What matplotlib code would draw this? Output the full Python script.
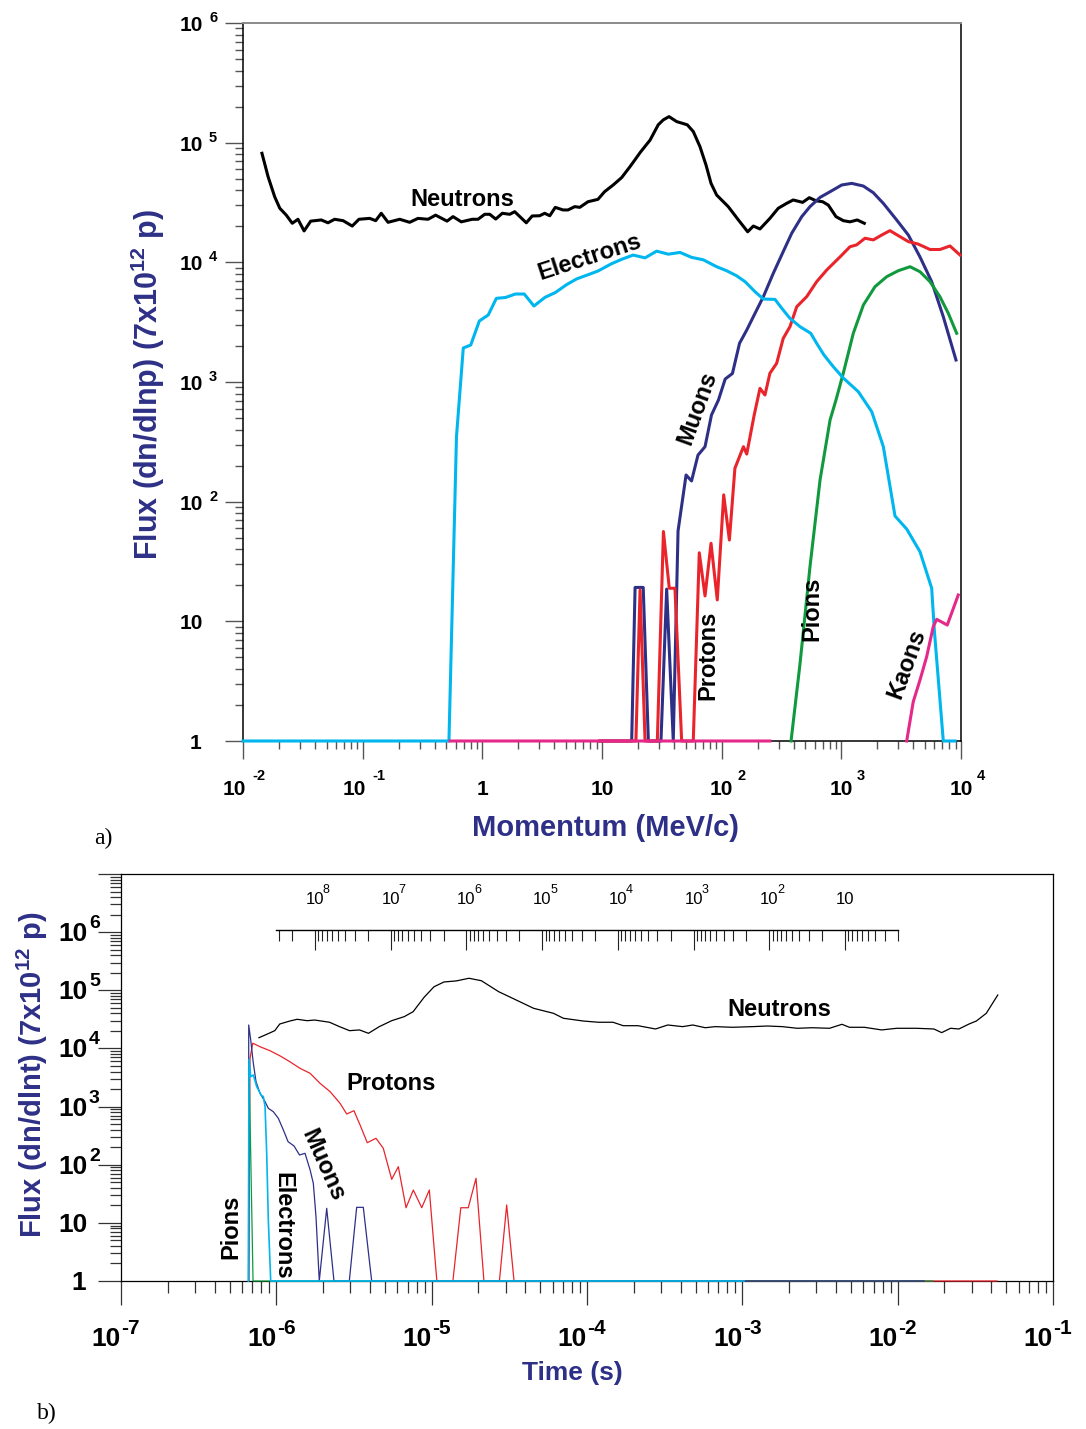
import numpy as np
import matplotlib
matplotlib.use("Agg")
import matplotlib.pyplot as plt
from matplotlib.ticker import LogLocator, NullFormatter

plt.rcParams['font.family'] = ['Liberation Sans', 'DejaVu Sans']
plt.rcParams['mathtext.fontset'] = 'custom'
plt.rcParams['mathtext.rm'] = 'Liberation Sans'
plt.rcParams['mathtext.bf'] = 'Liberation Sans:bold'

# ---------------- data: panel a) flux vs momentum (MeV/c) ----------------
p_neut = [0.0144, 0.0162, 0.0184, 0.0203, 0.0230, 0.0258, 0.0288, 0.0324, 0.0368, 0.0451,
          0.0513, 0.0583, 0.0686, 0.0818, 0.0931, 0.1145, 0.1285, 0.143, 0.163, 0.204,
          0.247, 0.290, 0.352, 0.407, 0.507, 0.569, 0.667, 0.824, 0.920, 1.047,
          1.153, 1.294, 1.469, 1.694, 1.864, 2.33, 2.61, 3.01, 3.32, 3.66,
          4.07, 4.72, 5.20, 5.92, 6.52, 7.64, 9.25, 10.5, 12.4, 14.6,
          17.3, 21.0, 25.2, 29.5, 32.5, 36.3, 42.1, 51.6, 57.9, 65.9,
          74.0, 81.5, 90.8, 113.5, 138, 165, 184, 209, 253, 297,
          349, 396, 475, 540, 614, 698, 778, 902, 1038, 1181, 1358, 1556]
f_neut = [8.15e4, 5.2e4, 3.53e4, 2.83e4, 2.48e4, 2.12e4, 2.29e4, 1.83e4, 2.21e4, 2.26e4,
          2.14e4, 2.29e4, 2.23e4, 2.01e4, 2.29e4, 2.33e4, 2.23e4, 2.57e4, 2.16e4, 2.29e4,
          2.16e4, 2.33e4, 2.29e4, 2.48e4, 2.21e4, 2.41e4, 2.18e4, 2.29e4, 2.29e4, 2.52e4,
          2.52e4, 2.30e4, 2.57e4, 2.52e4, 2.65e4, 2.14e4, 2.44e4, 2.45e4, 2.57e4, 2.45e4,
          2.88e4, 2.74e4, 2.74e4, 2.92e4, 2.88e4, 3.21e4, 3.36e4, 3.89e4, 4.43e4, 5.11e4,
          6.38e4, 8.36e4, 1.05e5, 1.41e5, 1.55e5, 1.65e5, 1.50e5, 1.41e5, 1.24e5, 9.25e4,
          6.50e4, 4.57e4, 3.65e4, 2.92e4, 2.26e4, 1.80e4, 2.01e4, 1.90e4, 2.33e4, 2.83e4,
          3.11e4, 3.32e4, 3.17e4, 3.47e4, 3.27e4, 3.21e4, 3.01e4, 2.41e4, 2.23e4, 2.18e4,
          2.26e4, 2.12e4]

p_elec = [0.01, 0.526, 0.608, 0.693, 0.800, 0.944, 1.12, 1.31, 1.56, 1.89,
          2.24, 2.70, 3.34, 4.08, 5.05, 6.12, 7.53, 9.25, 12.0, 14.6,
          18.2, 22.9, 28.6, 35.8, 44.9, 56.1, 70.2, 90.8, 110, 133,
          157, 190, 223, 279, 318, 372, 452, 555, 622, 716,
          857, 1038, 1386, 1795, 2244, 2808, 3516, 4541, 5689, 5984, 7112, 8913]
f_elec = [1, 1, 349, 1923, 2037, 3235, 3630, 5003, 5082, 5436,
          5436, 4315, 5100, 5598, 6501, 7259, 7834, 8459, 9730, 1.06e4,
          1.15e4, 1.09e4, 1.24e4, 1.17e4, 1.21e4, 1.10e4, 1.05e4, 9190, 8510, 7730,
          6890, 5680, 4935, 4900, 4130, 3405, 2897, 2553, 2105, 1682,
          1342, 1080, 830, 565, 288, 75.9, 59.1, 38.2, 18.9, 8.47, 1, 1]

p_muon = [9.62, 17.7, 18.9, 22.1, 24.4, 31.1, 34.7, 39.4, 43.2, 50.4,
          56.0, 63.4, 72.6, 82.2, 94.0, 107, 123, 141, 162, 190,
          223, 270, 327, 385, 467, 547, 664, 805, 1008, 1222,
          1528, 1849, 2244, 2899, 3631, 4541, 5689, 7112, 9080]
f_muon = [1, 1, 19.2, 19.2, 1, 1, 18.6, 1, 56.9, 167,
          149, 245, 288, 530, 707, 1059, 1178, 2105, 2718, 3750,
          5160, 8095, 1.23e4, 1.75e4, 2.41e4, 2.92e4, 3.49e4, 3.89e4, 4.43e4, 4.57e4,
          4.34e4, 3.82e4, 3.11e4, 2.26e4, 1.69e4, 1.11e4, 6890, 3514, 1527]

p_prot = [9.62, 19.2, 20.8, 22.9, 29.0, 32.6, 36.5, 40.7, 46.3, 57.9,
          65.0, 72.6, 81.5, 91.9, 104, 116, 129, 152, 162, 187,
          209, 230, 253, 288, 327, 372, 424, 513, 622, 755,
          975, 1181, 1343, 1577, 1849, 2173, 2547, 3090, 3631, 4395,
          5508, 6668, 8091, 9820]
f_prot = [1, 1, 18.3, 1, 1, 56.3, 18.9, 18.9, 1, 1,
          37.4, 16.3, 44.9, 15.1, 114, 47.8, 190, 288, 250, 530,
          885, 778, 1183, 1432, 2317, 2897, 4257, 5160, 6890, 8630,
          1.11e4, 1.35e4, 1.40e4, 1.59e4, 1.54e4, 1.69e4, 1.84e4, 1.64e4, 1.49e4, 1.42e4,
          1.28e4, 1.28e4, 1.37e4, 1.15e4]

p_pion = [380, 452, 547, 664, 805, 902, 1038, 1259, 1528, 1911, 2393, 2992, 3750, 4541,
          5508, 6668, 7834, 9200]
f_pion = [1, 4.46, 28.6, 152, 481, 707, 1183, 2553, 4400, 6260, 7585, 8510, 9190, 8350,
          6890, 5160, 3750, 2553]

p_kaon = [0.537, 253, 300, 3516, 3990, 4541, 5164, 5861, 6266, 7674, 9485]
f_kaon = [1, 1, np.nan, 1, 2.13, 3.23, 5.06, 9.02, 10.4, 9.31, 16.6]

# ---------------- data: panel b) flux vs time (s) ----------------
t_neut = [7.73e-7, 8.76e-7, 9.77e-7, 1.052e-6, 1.221e-6, 1.362e-6, 1.581e-6, 1.763e-6, 2.20e-6, 2.55e-6,
          2.96e-6, 3.43e-6, 3.92e-6, 4.60e-6, 5.53e-6, 6.66e-6, 7.60e-6, 8.94e-6, 1.035e-5, 1.20e-5,
          1.443e-5, 1.738e-5, 2.09e-5, 2.70e-5, 3.50e-5, 4.53e-5, 6.08e-5, 7.05e-5, 9.47e-5, 1.18e-4,
          1.47e-4, 1.71e-4, 2.13e-4, 2.76e-4, 3.31e-4, 4.13e-4, 4.80e-4, 5.77e-4, 6.68e-4, 8.65e-4,
          1.16e-3, 1.45e-3, 1.81e-3, 2.26e-3, 2.81e-3, 3.64e-3, 4.38e-3, 4.89e-3, 6.10e-3, 7.89e-3,
          9.85e-3, 1.32e-2, 1.71e-2, 1.92e-2, 2.19e-2, 2.48e-2, 2.88e-2, 3.21e-2, 3.72e-2, 4.41e-2]
g_neut = [1.53e4, 1.77e4, 2.02e4, 2.63e4, 2.96e4, 3.17e4, 3.0e4, 3.08e4, 2.82e4, 2.37e4,
          2.02e4, 2.08e4, 1.82e4, 2.37e4, 3.0e4, 3.52e4, 4.29e4, 7.58e4, 1.15e5, 1.39e5,
          1.45e5, 1.61e5, 1.46e5, 9.46e4, 6.81e4, 4.90e4, 4.02e4, 3.30e4, 2.96e4, 2.82e4,
          2.82e4, 2.46e4, 2.46e4, 2.16e4, 2.53e4, 2.37e4, 2.53e4, 2.27e4, 2.37e4, 2.31e4,
          2.37e4, 2.43e4, 2.37e4, 2.22e4, 2.27e4, 2.22e4, 2.60e4, 2.31e4, 2.31e4, 2.08e4,
          2.22e4, 2.22e4, 2.16e4, 1.87e4, 2.22e4, 2.16e4, 2.63e4, 2.96e4, 4.02e4, 8.30e4]

t_muon = [6.64e-7, 6.64e-7, 6.84e-7, 7.11e-7, 7.40e-7, 7.85e-7, 8.46e-7, 8.88e-7, 9.56e-7, 1.03e-6,
          1.11e-6, 1.19e-6, 1.30e-6, 1.41e-6, 1.53e-6, 1.65e-6, 1.73e-6, 1.80e-6, 1.89e-6, 2.11e-6,
          2.35e-6, 2.95e-6, 3.29e-6, 3.63e-6, 4.11e-6, 1.48e-2]
g_muon = [1, 2.53e4, 1.40e4, 5550, 2680, 1692, 1213, 934, 816, 629,
          395, 249, 210, 147, 157, 81.2, 47.9, 12.8, 1, 17.8,
          1, 1, 18.5, 18.5, 1, 1]

t_prot = [6.64e-7, 6.77e-7, 7.05e-7, 7.85e-7, 9.10e-7, 1.06e-6, 1.22e-6, 1.42e-6, 1.65e-6, 1.91e-6,
          2.22e-6, 2.57e-6, 2.84e-6, 3.16e-6, 3.46e-6, 3.85e-6, 4.38e-6, 4.88e-6, 5.53e-6, 6.10e-6,
          6.84e-6, 7.62e-6, 8.63e-6, 9.66e-6, 1.08e-5, 1.37e-5, 1.54e-5, 1.72e-5, 1.93e-5, 2.17e-5,
          2.73e-5, 3.04e-5, 3.39e-5, 4.36e-2]
g_prot = [1, 6770, 1.23e4, 1.07e4, 9140, 7410, 5920, 4550, 3735, 2515,
          1803, 1138, 745, 849, 482, 239, 285, 192, 56.1, 92.5,
          18.2, 36.7, 18.2, 36.7, 1, 1, 18.2, 18.2, 58.4, 1,
          1, 20.3, 1, 1]

t_elec = [6.60e-7, 6.67e-7, 6.84e-7, 7.11e-7, 7.48e-7, 8.05e-7, 8.24e-7, 8.46e-7, 8.67e-7, 8.88e-7,
          9.20e-7, 1.025e-3]
g_elec = [1, 6500, 3266, 3492, 2198, 1520, 1500, 995, 157, 11.2, 1, 1]

t_pion = [6.62e-7, 6.70e-7, 7.08e-7, 1.69e-2]
g_pion = [1, 3000, 1, 1]

NAVY = '#2e3087'
CYAN = '#00b6ee'
RED = '#e9242b'
GREEN = '#11993d'
MAGENTA = '#e5288a'

W, H, DPI = 1086, 1429, 100
PX = 72.0 / DPI   # points per pixel


def fx(px):
    return px / W


def fy(py):
    return 1 - py / H


def tick_text(ax, trans, xy, s, dx, dy, size, ha, weight='bold'):
    # dx, dy in pixels from the tick position
    ax.annotate(s, xy=xy, xycoords=trans, xytext=(dx * PX, dy * PX),
                textcoords='offset points', ha=ha, va='baseline',
                fontsize=size, fontweight=weight, annotation_clip=False)


fig = plt.figure(figsize=(W / DPI, H / DPI), dpi=DPI)

# ======================= panel a =======================
ax1 = fig.add_axes([fx(243), fy(741), fx(961) - fx(243), (741 - 23) / H])
ax1.set_xscale('log')
ax1.set_yscale('log')
ax1.set_xlim(1e-2, 1e4)
ax1.set_ylim(1, 1e6)
for s in ['left', 'bottom', 'right']:
    ax1.spines[s].set_linewidth(1.1)
ax1.spines['top'].set_color('#8a8a8a')
ax1.spines['top'].set_linewidth(1.4)
ax1.xaxis.set_minor_locator(LogLocator(base=10, subs=np.arange(2, 10), numticks=20))
ax1.yaxis.set_minor_locator(LogLocator(base=10, subs=np.arange(2, 10), numticks=20))
ax1.xaxis.set_minor_formatter(NullFormatter())
ax1.yaxis.set_minor_formatter(NullFormatter())
ax1.tick_params(which='both', direction='out', color='#555555', width=1.0,
                labelbottom=False, labelleft=False, top=False, right=False)
ax1.tick_params(which='major', length=18 * PX)
ax1.tick_params(which='minor', length=8 * PX)

lw1 = 2.2
ax1.plot(p_neut, f_neut, color='black', lw=lw1, clip_on=False, zorder=3)
ax1.plot(p_muon, f_muon, color=NAVY, lw=lw1, clip_on=False, zorder=3)
ax1.plot(p_prot, f_prot, color=RED, lw=lw1, clip_on=False, zorder=3)
ax1.plot(p_pion, f_pion, color=GREEN, lw=lw1, clip_on=False, zorder=3)
ax1.plot(p_elec, f_elec, color=CYAN, lw=lw1, clip_on=False, zorder=3)
ax1.plot(p_kaon, f_kaon, color=MAGENTA, lw=lw1, clip_on=False, zorder=3)

# tick labels, panel a
tx = ax1.get_xaxis_transform()
ty = ax1.get_yaxis_transform()
for e in range(-2, 5):
    v = 10.0 ** e
    if e == 0:
        tick_text(ax1, tx, (v, 0), '1', 0, -54, 15, 'center')
    elif e == 1:
        tick_text(ax1, tx, (v, 0), '10', 0, -54, 15, 'center')
    elif e < 0:
        tick_text(ax1, tx, (v, 0), '10', 3, -54, 15, 'right')
        tick_text(ax1, tx, (v, 0), str(e), 9.5, -39, 10.5, 'left')
    else:
        tick_text(ax1, tx, (v, 0), '10', 0, -54, 15, 'center')
        tick_text(ax1, tx, (v, 0), str(e), 15.5, -39, 10.5, 'left')
for e in range(0, 7):
    v = 10.0 ** e
    if e == 0:
        tick_text(ax1, ty, (0, v), '1', -42, -8, 15, 'right')
    elif e == 1:
        tick_text(ax1, ty, (0, v), '10', -40, -8, 15, 'right')
    else:
        tick_text(ax1, ty, (0, v), '10', -40, -8, 15, 'right')
        tick_text(ax1, ty, (0, v), str(e), -34, 1, 10.5, 'left')

fig.text(fx(148), fy(385), r'Flux (dn/dlnp) (7x10$^{\mathbf{12}}$ p)', rotation=90,
         ha='center', va='center', fontsize=22, fontweight='bold', color=NAVY)
fig.text(fx(605), fy(828), 'Momentum (MeV/c)', ha='center', va='center',
         fontsize=21, fontweight='bold', color=NAVY)
fig.text(fx(103), fy(838), 'a)', ha='center', va='center', fontsize=17,
         family=['Liberation Serif', 'DejaVu Serif'])

lab = dict(fontsize=17, fontweight='bold', ha='center', va='center', color='black')
fig.text(fx(462), fy(199), 'Neutrons', **lab)
fig.text(fx(590), fy(257), 'Electrons', rotation=18, **lab)
fig.text(fx(697), fy(408), 'Muons', rotation=70, **lab)
fig.text(fx(708), fy(655), 'Protons', rotation=90, **lab)
fig.text(fx(812), fy(609), 'Pions', rotation=90, **lab)
fig.text(fx(907), fy(664), 'Kaons', rotation=70, **lab)

# ======================= panel b =======================
ax2 = fig.add_axes([fx(121), fy(1281), fx(1053) - fx(121), (1281 - 874) / H])
ax2.set_xscale('log')
ax2.set_yscale('log')
ax2.set_xlim(1e-7, 1e-1)
ax2.set_ylim(1, 1e7)
for s in ax2.spines.values():
    s.set_linewidth(0.9)
ax2.xaxis.set_minor_locator(LogLocator(base=10, subs=np.arange(2, 10), numticks=20))
ax2.yaxis.set_minor_locator(LogLocator(base=10, subs=np.arange(2, 10), numticks=20))
ax2.xaxis.set_minor_formatter(NullFormatter())
ax2.yaxis.set_minor_formatter(NullFormatter())
ax2.tick_params(which='both', direction='out', color='#333333', width=0.9,
                labelbottom=False, labelleft=False, top=False, right=False)
ax2.tick_params(axis='x', which='major', length=24 * PX)
ax2.tick_params(axis='x', which='minor', length=12 * PX)
ax2.tick_params(axis='y', which='major', length=23 * PX)
ax2.tick_params(axis='y', which='minor', length=11 * PX)

lw2 = 0.9
ax2.plot(t_neut, g_neut, color='black', lw=lw2, clip_on=False, zorder=3)
ax2.plot(t_prot, g_prot, color=RED, lw=lw2, clip_on=False, zorder=3)
ax2.plot(t_pion, g_pion, color=GREEN, lw=lw2, clip_on=False, zorder=3)
ax2.plot(t_muon, g_muon, color=NAVY, lw=lw2, clip_on=False, zorder=3)
ax2.plot(t_elec, g_elec, color=CYAN, lw=lw2 + 0.3, clip_on=False, zorder=3)

tx2 = ax2.get_xaxis_transform()
ty2 = ax2.get_yaxis_transform()
for e in range(-7, 0):
    v = 10.0 ** e
    tick_text(ax2, tx2, (v, 0), '10', 0, -65, 19, 'right')
    tick_text(ax2, tx2, (v, 0), str(e), 0.5, -53, 15, 'left')
for e in range(0, 7):
    v = 10.0 ** e
    if e == 0:
        tick_text(ax2, ty2, (0, v), '1', -35, -9, 19, 'right')
    elif e == 1:
        tick_text(ax2, ty2, (0, v), '10', -33, -9, 19, 'right')
    else:
        tick_text(ax2, ty2, (0, v), '10', -33, -9, 19, 'right')
        tick_text(ax2, ty2, (0, v), str(e), -32, 4, 14, 'left')

# energy scale drawn inside panel b
axE = fig.add_axes([fx(276), fy(931), fx(898) - fx(276), 0.0004])
axE.set_xscale('log')
axE.set_xlim(10 ** 8.515, 10 ** 0.30)
axE.patch.set_visible(False)
for s in ['left', 'right', 'bottom']:
    axE.spines[s].set_visible(False)
axE.spines['top'].set_linewidth(1.0)
axE.yaxis.set_visible(False)
axE.xaxis.set_ticks_position('top')
axE.xaxis.set_major_locator(LogLocator(base=10, numticks=20))
axE.xaxis.set_minor_locator(LogLocator(base=10, subs=np.arange(2, 10), numticks=20))
axE.xaxis.set_major_formatter(NullFormatter())
axE.xaxis.set_minor_formatter(NullFormatter())
axE.tick_params(which='both', direction='in', color='#222222', width=0.8,
                labeltop=False, labelbottom=False)
axE.tick_params(which='major', length=20 * PX)
axE.tick_params(which='minor', length=11 * PX)
txE = axE.get_xaxis_transform()
for e in range(8, 0, -1):
    v = 10.0 ** e
    tick_text(axE, txE, (v, 1), '10', 0, 26, 12, 'center', weight='normal')
    if e > 1:
        tick_text(axE, txE, (v, 1), str(e), 8, 37, 9, 'left', weight='normal')

fig.text(fx(32), fy(1075), r'Flux (dn/dlnt) (7x10$^{\mathbf{12}}$ p)', rotation=90,
         ha='center', va='center', fontsize=21, fontweight='bold', color=NAVY)
fig.text(fx(572), fy(1373), 'Time (s)', ha='center', va='center',
         fontsize=19, fontweight='bold', color=NAVY)
fig.text(fx(47), fy(1413), 'b)', ha='center', va='center', fontsize=17,
         family=['Liberation Serif', 'DejaVu Serif'])

fig.text(fx(779), fy(1009), 'Neutrons', **lab)
fig.text(fx(391), fy(1083), 'Protons', **lab)
fig.text(fx(323), fy(1165), 'Muons', rotation=-66, **lab)
fig.text(fx(283), fy(1226), 'Electrons', rotation=-90, **lab)
fig.text(fx(231), fy(1227), 'Pions', rotation=90, **lab)

fig.savefig('out.png', dpi=DPI, facecolor='white')
